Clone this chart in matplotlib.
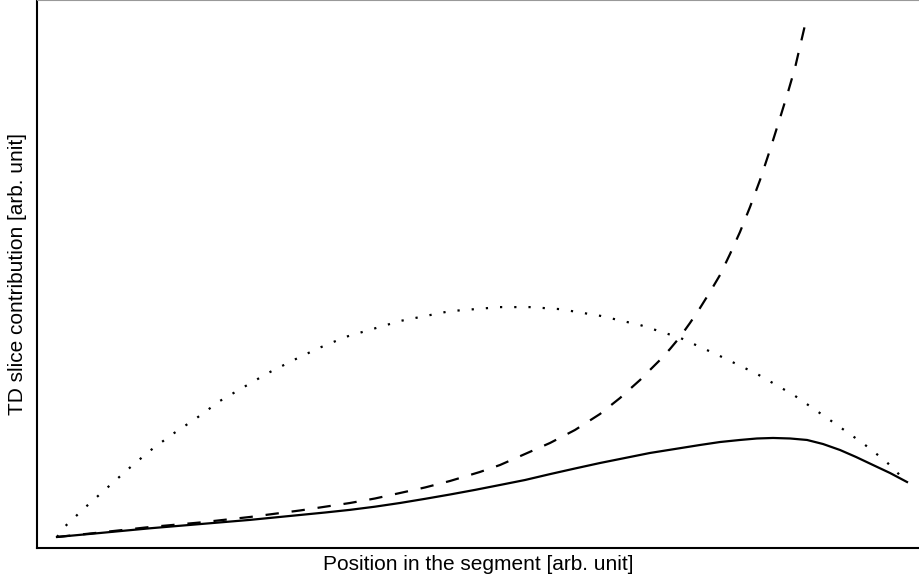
import matplotlib
matplotlib.use("Agg")
import matplotlib.pyplot as plt

plt.rcParams["font.family"] = ["Liberation Sans", "DejaVu Sans"]

# Curves (arb. units, position 0..1)
solid_x = [0, 0.0506, 0.1094, 0.1682, 0.2271, 0.2859, 0.3153, 0.3447, 0.3741,
           0.4035, 0.4329, 0.4624, 0.4918, 0.5212, 0.5506, 0.5800, 0.6094,
           0.6388, 0.6682, 0.6976, 0.7271, 0.7565, 0.7800, 0.8035, 0.8235,
           0.8424, 0.8624, 0.8824, 0.9012, 0.9212, 0.9400, 0.9600, 0.9800, 1.0]
solid_y = [0, 0.0078, 0.0170, 0.0252, 0.0334, 0.0430, 0.0478, 0.0530, 0.0592,
           0.0664, 0.0745, 0.0830, 0.0920, 0.1016, 0.1113, 0.1228, 0.1338,
           0.1445, 0.1543, 0.1641, 0.1719, 0.1797, 0.1855, 0.1895, 0.1924,
           0.1934, 0.1924, 0.1895, 0.1816, 0.1699, 0.1563, 0.1406, 0.1250,
           0.1074]

dashed_x = [0, 0.0506, 0.1094, 0.1682, 0.2271, 0.2859, 0.3447, 0.3741, 0.4035,
            0.4329, 0.4624, 0.4976, 0.5212, 0.5506, 0.5800, 0.6094, 0.6388,
            0.6506, 0.6624, 0.6741, 0.6859, 0.6976, 0.7094, 0.7212, 0.7329,
            0.7447, 0.7565, 0.7682, 0.7800, 0.7918, 0.8035, 0.8153, 0.8271,
            0.8388, 0.8506, 0.8600, 0.8682, 0.8800]
dashed_y = [0, 0.0088, 0.0195, 0.0283, 0.0391, 0.0518, 0.0664, 0.0752, 0.0859,
            0.0967, 0.1094, 0.1270, 0.1406, 0.1621, 0.1836, 0.2090, 0.2402,
            0.2559, 0.2715, 0.2891, 0.3066, 0.3262, 0.3457, 0.3672, 0.3906,
            0.4180, 0.4473, 0.4785, 0.5117, 0.5527, 0.5957, 0.6445, 0.6973,
            0.7559, 0.8184, 0.8691, 0.9160, 1.0]

dotted_x = [0, 0.009, 0.034, 0.059, 0.084, 0.109, 0.136, 0.164, 0.192, 0.220,
            0.248, 0.279, 0.308, 0.340, 0.404, 0.462, 0.521, 0.556, 0.592,
            0.639, 0.686, 0.733, 0.778, 0.824, 0.867, 0.908, 0.949, 0.975, 1.0]
dotted_y = [0, 0.020, 0.059, 0.096, 0.133, 0.168, 0.201, 0.232, 0.266, 0.293,
            0.320, 0.346, 0.369, 0.391, 0.422, 0.441, 0.449, 0.449, 0.445,
            0.432, 0.414, 0.389, 0.355, 0.318, 0.277, 0.230, 0.182, 0.148,
            0.107]

fig = plt.figure(figsize=(9.19, 5.84), dpi=100)
ax = fig.add_axes([37 / 919, 36 / 584, 882 / 919, 548 / 584])

ax.plot(solid_x, solid_y, color="black", lw=1.6)
ax.plot(dashed_x, dashed_y, color="black", lw=1.6, dashes=(6.0, 5.8))
ax.plot(dotted_x, dotted_y, color="black", lw=1.6, dashes=(1.0, 5.4))

ax.set_xlim(-0.0235, 1.0141)
ax.set_ylim(-0.0215, 1.0488)
ax.set_xticks([])
ax.set_yticks([])

ax.spines["left"].set_linewidth(1.5)
ax.spines["bottom"].set_linewidth(1.5)
ax.spines["top"].set_color("#999999")
ax.spines["right"].set_visible(False)

ax.set_xlabel("Position in the segment [arb. unit]", fontsize=15, labelpad=5)
ax.set_ylabel("TD slice contribution [arb. unit]", fontsize=15, labelpad=7)

fig.savefig("out.png", dpi=100)
plt.close(fig)
